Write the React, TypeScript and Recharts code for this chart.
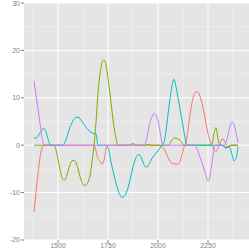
import { LineChart, Line, XAxis, YAxis, CartesianGrid } from "recharts";

// x positions (shared by all four components)
const wavenumber = [
  1380, 1390, 1400, 1410, 1420, 1430, 1440, 1450, 1460, 1470,
  1480, 1490, 1500, 1510, 1520, 1530, 1540, 1550, 1560, 1570,
  1580, 1590, 1600, 1610, 1620, 1630, 1640, 1650, 1660, 1670,
  1680, 1690, 1700, 1710, 1720, 1730, 1740, 1750, 1760, 1770,
  1780, 1790, 1800, 1810, 1820, 1830, 1840, 1850, 1860, 1870,
  1880, 1890, 1900, 1910, 1920, 1930, 1940, 1950, 1960, 1970,
  1980, 1990, 2000, 2010, 2020, 2030, 2040, 2050, 2060, 2070,
  2080, 2090, 2100, 2110, 2120, 2130, 2140, 2150, 2160, 2170,
  2180, 2190, 2200, 2210, 2220, 2230, 2240, 2250, 2260, 2270,
  2280, 2290, 2300, 2310, 2320, 2330, 2340, 2350, 2360, 2370,
  2380, 2390, 2400,
];

const comp1 = [
  -14.1, -10, -6, -2.6, -0.6, 0, 0, 0, 0, 0,
  0, 0, 0, 0, 0, 0, 0, 0, 0, 0,
  0, 0, 0, 0, 0, 0, 0, 0, 0, 0,
  0, -1.2, -2.9, -3.3, -4.0, -3.2, -0.8, 0, 0, 0,
  0, 0, 0, 0, 0, 0, 0, 0, 0, 0,
  0, 0, 0, 0, 0, 0, 0, 0, 0, 0,
  0, 0, 0, 0, -0.3, -0.8, -1.6, -2.6, -3.4, -3.8,
  -3.9, -4.0, -4.0, -3.4, -2.0, -0.4, 0.6, 3.2, 6.5, 9.0,
  10.6, 11.3, 11.2, 10.3, 8.8, 6.9, 4.6, 2.5, 0.9, 0,
  -0.9, -1.4, -0.6, 0.4, 1.3, 1.1, 0.1, -0.5, -0.2, 0,
  0, 0, 0,
];

const comp2 = [
  0, 0, 0, 0, 0, 0, 0, 0, 0, 0,
  0, -1.0, -3.0, -5.2, -6.8, -7.4, -6.9, -5.5, -4.1, -3.3,
  -3.2, -3.7, -5.0, -6.6, -7.8, -8.5, -8.4, -7.8, -6.5, -3.5,
  0, 4.8, 11.0, 15.0, 17.4, 18.0, 17.0, 14.0, 10.8, 7.2,
  3.9, 1.5, 0, 0, 0, 0, 0, 0, 0, 0.3,
  0.2, 0, 0, 0, 0, 0, 0, 0.2, 0, 0,
  0, 0, 0, 0, 0, 0, 0, 0, 0.4, 1.1,
  1.5, 1.5, 1.3, 1.1, 0.5, 0, 0, 0, 0, 0,
  0, 0, 0, 0, 0, 0, 0, 0, 0, 0.3,
  2.4, 3.7, 1.3, 0, 0, -0.2, -0.5, -0.3, 0, 0,
  0, 0, 0,
];

const comp3 = [
  1.6, 1.5, 1.9, 2.6, 3.3, 3.5, 2.8, 1.3, 0.2, 0,
  0, 0, 0, 0, 0, 0.3, 1.2, 2.5, 3.8, 4.8,
  5.5, 5.9, 5.9, 5.6, 5.0, 4.4, 3.8, 3.3, 2.9, 2.6,
  2.5, 2.4, 0, 0, 0, 0, 0, -0.5, -2.5, -4.5,
  -6.3, -8.0, -9.5, -10.5, -11.0, -10.8, -10.2, -9.0, -7.3, -5.5,
  -3.8, -2.6, -2.0, -2.1, -3.0, -4.1, -4.6, -4.4, -3.6, -2.8,
  -2.2, -1.7, -1.2, -0.6, 0, 0.6, 3.0, 6.5, 9.8, 12.5,
  13.9, 12.3, 10.0, 7.6, 5.3, 2.8, 0.5, 0, 0, 0,
  0, 0, 0, 0, 0, 0, 0, 0, 0, 0,
  0, 0, 0, 0, 0, -0.3, -0.7, -0.3, -0.5, -2.0,
  -3.3, -2.8, -0.3,
];

const comp4 = [
  13.6, 10.6, 7.6, 4.6, 1.6, 0, 0, 0, 0, 0,
  0, 0, 0, 0, 0, 0, 0, 0, 0, 0,
  0, 0, 0, 0, 0, 0, 0, 0, 0, 0,
  0, 0, 0, 0, 0, 0, 0, 0, 0, 0,
  0, 0, 0, 0, 0, 0, 0, 0, 0, 0.3,
  0.3, 0, 0, 0, 0, 0, 0.8, 2.8, 4.8, 6.0,
  6.7, 6.4, 5.2, 3.0, 0.5, 0, 0, 0, 0, 0,
  0, 0, 0, 0, 0, 0, 0, 0, 0, 0,
  0, -0.3, -1.2, -2.5, -3.7, -5.0, -6.4, -7.6, -6.4, -3.6,
  -0.8, 0, 0, 0, 0, 0, 0.5, 2.2, 4.0, 4.9,
  4.4, 2.6, 0.5,
];

const xTicks = [1500, 1750, 2000, 2250];
const xMinor = [1375, 1625, 1875, 2125, 2375];
const yTicks = [-20, -10, 0, 10, 20, 30];
const yMinor = [-15, -5, 5, 15, 25];

const series = [
  { key: "comp1", color: "#F8766D" },
  { key: "comp2", color: "#7CAE00" },
  { key: "comp3", color: "#00BFC4" },
  { key: "comp4", color: "#C77CFF" },
];

const data = wavenumber.map((x, i) => ({
  x,
  comp1: comp1[i],
  comp2: comp2[i],
  comp3: comp3[i],
  comp4: comp4[i],
}));

const tickStyle = { fontSize: 7, fill: "#7F7F7F", fontFamily: "Liberation Sans, Arial, sans-serif" };

export default function App() {
  return (
    <div style={{ position: "absolute", left: 0, top: 0, background: "#fff" }}>
      <LineChart width={249} height={249} data={data} margin={{ top: 3, right: 0, bottom: 0, left: 0 }}>
        <CartesianGrid
          fill="#E5E5E5"
          stroke="#EDEDED"
          strokeWidth={1}
          horizontalValues={yMinor}
          verticalValues={xMinor}
        />
        <CartesianGrid
          stroke="#FFFFFF"
          strokeWidth={1}
          horizontalValues={yTicks}
          verticalValues={xTicks}
        />
        <XAxis
          dataKey="x"
          type="number"
          domain={[1330, 2455]}
          ticks={xTicks}
          allowDataOverflow
          height={9}
          axisLine={false}
          tickSize={3}
          tickMargin={0}
          tickLine={{ stroke: "#7F7F7F" }}
          tick={tickStyle}
        />
        <YAxis
          type="number"
          domain={[-20, 30]}
          ticks={yTicks}
          allowDataOverflow
          width={24}
          axisLine={false}
          tickSize={3}
          tickMargin={1}
          tickLine={{ stroke: "#7F7F7F" }}
          tick={tickStyle}
        />
        {series.map((s) => (
          <Line
            key={s.key}
            dataKey={s.key}
            type="monotone"
            stroke={s.color}
            strokeWidth={1}
            dot={false}
            isAnimationActive={false}
          />
        ))}
      </LineChart>
    </div>
  );
}
